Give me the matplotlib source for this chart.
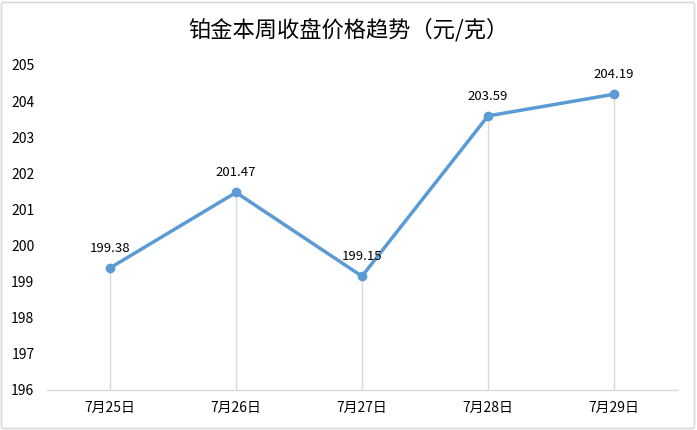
import matplotlib
matplotlib.use("Agg")
import matplotlib.pyplot as plt
from matplotlib.patches import FancyBboxPatch

plt.rcParams['font.family'] = ['Noto Sans CJK SC', 'DejaVu Sans']

dates = ["7月25日", "7月26日", "7月27日", "7月28日", "7月29日"]
prices = [199.38, 201.47, 199.15, 203.59, 204.19]
y_ticks = [196, 197, 198, 199, 200, 201, 202, 203, 204, 205]

W, H = 697, 430
fig = plt.figure(figsize=(W / 100, H / 100), dpi=100)
fig.patch.set_facecolor("white")

# thin grey frame around the chart area
fig.patches.append(FancyBboxPatch((1.5 / W, 1.5 / H), (W - 4) / W, (H - 4) / H,
                                  boxstyle="round,pad=0,rounding_size=0.004",
                                  transform=fig.transFigure, fill=False,
                                  edgecolor="#D9D9D9", linewidth=1.2))

ax = fig.add_axes([47 / W, (H - 390) / H, (677 - 47) / W, (390 - 65) / H])
x = list(range(len(dates)))

# drop lines from each point down to the category axis
for xi, yi in zip(x, prices):
    ax.plot([xi, xi], [y_ticks[0], yi], color="#D9D9D9", linewidth=1, zorder=1)

ax.plot(x, prices, color="#5B9BD5", linewidth=2.5, marker="o",
        markersize=6, zorder=3)

for xi, yi in zip(x, prices):
    ax.annotate(f"{yi:.2f}", (xi, yi), xytext=(0, 9.5), textcoords="offset points",
                ha="center", va="bottom", fontsize=9.5, color="#000000", zorder=4)

ax.set_xlim(-0.5, len(dates) - 0.5)
ax.set_ylim(y_ticks[0], y_ticks[-1])
ax.set_xticks(x)
ax.set_xticklabels(dates)
ax.set_yticks(y_ticks)

for side in ("top", "right", "left"):
    ax.spines[side].set_visible(False)
ax.spines["bottom"].set_color("#D9D9D9")
ax.spines["bottom"].set_linewidth(1)
ax.tick_params(axis="both", length=0, labelsize=10, colors="#000000")
ax.tick_params(axis="x", pad=8)
ax.tick_params(axis="y", pad=9)
for lbl in ax.get_yticklabels():
    lbl.set_horizontalalignment("right")

fig.text(0.5, (H - 30) / H, "铂金本周收盘价格趋势（元/克）", ha="center", va="center",
         fontsize=16, color="#000000")

fig.savefig("out.png", dpi=100)
